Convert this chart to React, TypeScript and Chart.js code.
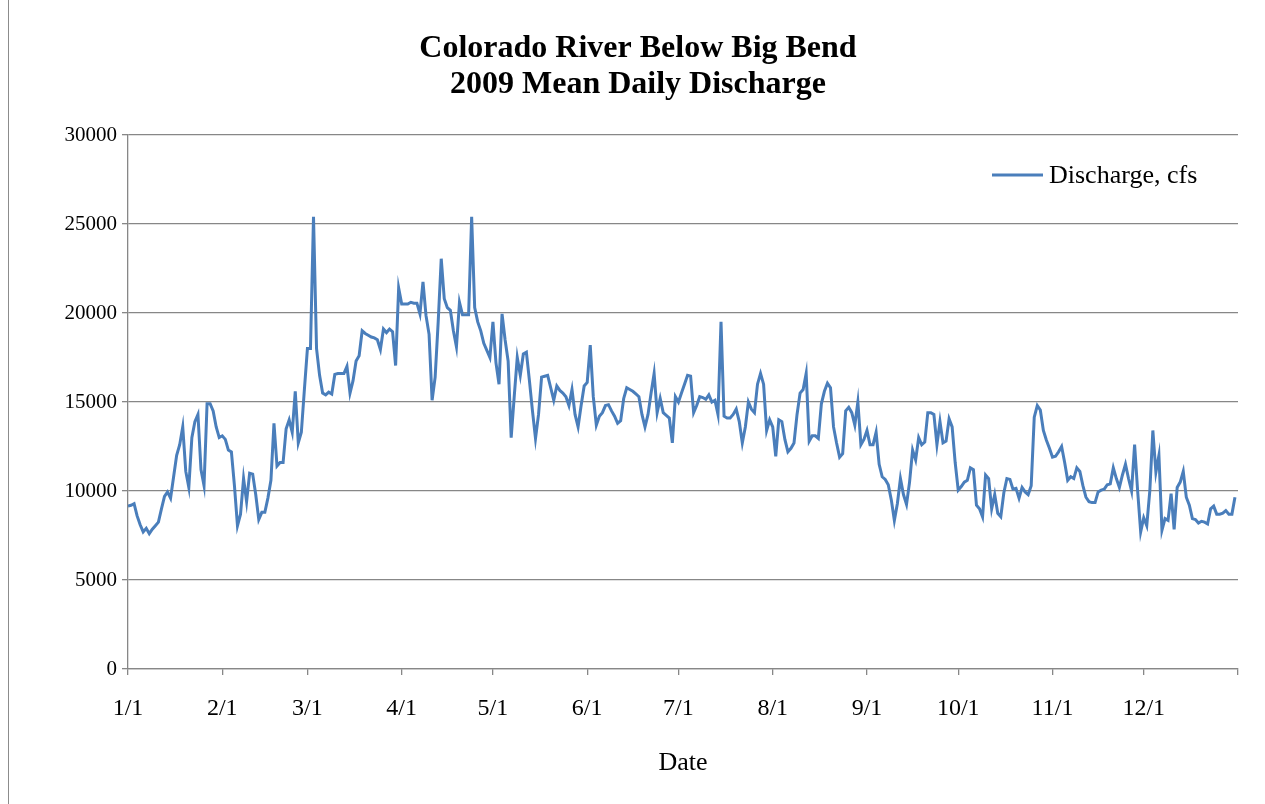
import { useEffect, useRef } from "react";
import { Chart, registerables } from "chart.js";

Chart.register(...registerables);

// Chart text
const chartTitle = ["Colorado River Below Big Bend", "2009 Mean Daily Discharge"];
const seriesLabel = "Discharge, cfs";
const xAxisTitle = "Date";

// Month boundaries (day of year, 0 = Jan 1) and their tick labels
const monthStartDays = [0, 31, 59, 90, 120, 151, 181, 212, 243, 273, 304, 334, 365];
const monthTickLabels = ["1/1", "2/1", "3/1", "4/1", "5/1", "6/1", "7/1", "8/1", "9/1", "10/1", "11/1", "12/1", ""];
const yTickValues = [0, 5000, 10000, 15000, 20000, 25000, 30000];

// Mean daily discharge (cfs), one array per month
const jan = [9160, 9200, 9290, 8600, 8100, 7700, 7900, 7600, 7850, 8050, 8250, 9000, 9700, 9950, 9600, 10800, 12000, 12600, 13600, 11100, 10200, 13000, 13900, 14300, 11200, 10300, 14900, 14900, 14500, 13600, 13000];
const feb = [13100, 12900, 12300, 12200, 10300, 8050, 8700, 10700, 9400, 11000, 10950, 9800, 8400, 8800, 8800, 9600, 10600, 13800, 11400, 11600, 11600, 13500, 14000, 13300, 15600, 12700, 13300, 15700];
const mar = [18000, 18000, 25400, 18000, 16500, 15500, 15400, 15550, 15450, 16550, 16600, 16600, 16600, 17000, 15500, 16200, 17300, 17600, 19000, 18850, 18750, 18650, 18600, 18500, 17950, 19100, 18900, 19100, 18950, 17050, 21400];
const apr = [20500, 20500, 20500, 20600, 20550, 20550, 19950, 21750, 19850, 18800, 15100, 16400, 19500, 23050, 20800, 20300, 20150, 19000, 18100, 20600, 19900, 19900, 19900, 25400, 20300, 19500, 19000, 18300, 17900, 17500];
const may = [19500, 17200, 16000, 19950, 18500, 17300, 13000, 15300, 17500, 16500, 17700, 17800, 16200, 14500, 12950, 14300, 16400, 16450, 16500, 15800, 15100, 15900, 15650, 15500, 15300, 14800, 15700, 14300, 13600, 14800, 15900];
const jun = [16100, 18200, 15300, 13700, 14200, 14400, 14800, 14850, 14500, 14200, 13800, 13950, 15200, 15800, 15700, 15600, 15450, 15300, 14300, 13600, 14300, 15500, 16600, 14400, 15200, 14400, 14250, 14100, 12700, 15300];
const jul = [15000, 15500, 16000, 16500, 16450, 14400, 14800, 15300, 15250, 15150, 15400, 15000, 15100, 14300, 19500, 14200, 14100, 14100, 14300, 14600, 13900, 12700, 13600, 15000, 14600, 14400, 16000, 16600, 16000, 13400, 14000];
const aug = [13600, 11950, 14000, 13900, 12900, 12200, 12400, 12700, 14300, 15500, 15700, 16600, 12800, 13100, 13100, 12950, 14900, 15600, 16050, 15800, 13600, 12700, 11900, 12100, 14500, 14700, 14400, 13700, 15000, 12600, 12900];
const sep = [13400, 12600, 12600, 13300, 11500, 10800, 10650, 10350, 9500, 8350, 9300, 10700, 9800, 9250, 10500, 12300, 11750, 13000, 12600, 12750, 14400, 14400, 14300, 12600, 13900, 12700, 12800, 14050, 13600, 11600];
const oct = [10050, 10250, 10500, 10600, 11300, 11200, 9200, 9000, 8550, 10900, 10700, 9000, 9800, 8750, 8550, 9900, 10700, 10650, 10100, 10150, 9600, 10200, 9950, 9800, 10300, 14150, 14800, 14550, 13400, 12850, 12400];
const nov = [11900, 11950, 12200, 12500, 11600, 10600, 10800, 10700, 11300, 11100, 10300, 9650, 9400, 9350, 9350, 9950, 10050, 10100, 10350, 10400, 11300, 10700, 10200, 10900, 11500, 10700, 10000, 12600, 10000, 7700];
const dec = [8500, 8050, 10000, 13400, 11050, 12000, 7800, 8450, 8350, 9850, 7850, 10200, 10500, 11100, 9650, 9200, 8450, 8400, 8200, 8300, 8250, 8150, 9000, 9150, 8700, 8700, 8750, 8900, 8700, 8700, 9650];

const dailyDischarge = [...jan, ...feb, ...mar, ...apr, ...may, ...jun, ...jul, ...aug, ...sep, ...oct, ...nov, ...dec];

const LINE_COLOR = "#4a7ebb";
const GRID_COLOR = "#878787";
const SERIF = "'Liberation Serif', 'Times New Roman', serif";

// Legend drawn inside the plot area, upper right
const insideLegend = {
  id: "insideLegend",
  afterDraw(chart: any) {
    const ctx = chart.ctx;
    const y = 175;
    ctx.save();
    ctx.strokeStyle = LINE_COLOR;
    ctx.lineWidth = 3;
    ctx.beginPath();
    ctx.moveTo(992, y);
    ctx.lineTo(1043, y);
    ctx.stroke();
    ctx.fillStyle = "#000";
    ctx.font = `26px ${SERIF}`;
    ctx.textBaseline = "middle";
    ctx.textAlign = "left";
    ctx.fillText(chart.data.datasets[0].label, 1049, y + 1);
    ctx.restore();
  },
};

// White background and the frame's left edge
const chartFrame = {
  id: "chartFrame",
  beforeDraw(chart: any) {
    const ctx = chart.ctx;
    ctx.save();
    ctx.fillStyle = "#fff";
    ctx.fillRect(0, 0, chart.width, chart.height);
    ctx.strokeStyle = "#8c8c8c";
    ctx.lineWidth = 1;
    ctx.beginPath();
    ctx.moveTo(8.5, 0);
    ctx.lineTo(8.5, chart.height);
    ctx.stroke();
    ctx.restore();
  },
};

export default function App() {
  const canvasRef = useRef<HTMLCanvasElement | null>(null);

  useEffect(() => {
    if (!canvasRef.current) return;
    const points = dailyDischarge.map((v, i) => ({ x: i, y: v }));
    const chart = new Chart(canvasRef.current, {
      type: "line",
      data: {
        datasets: [
          {
            label: seriesLabel,
            data: points,
            borderColor: LINE_COLOR,
            borderWidth: 3,
            pointRadius: 0,
            tension: 0,
            fill: false,
          },
        ],
      },
      options: {
        responsive: false,
        animation: false,
        layout: { padding: { left: 38, right: 27, top: 0, bottom: 0 } },
        plugins: {
          legend: { display: false },
          tooltip: { enabled: false },
          title: {
            display: true,
            text: chartTitle,
            color: "#000",
            font: { family: SERIF, size: 32, weight: "bold", lineHeight: "36px" },
            padding: { top: 31, bottom: 32 },
          },
        },
        scales: {
          x: {
            type: "linear",
            min: 0,
            max: 365,
            afterBuildTicks: (scale: any) => {
              scale.ticks = monthStartDays.map((v) => ({ value: v }));
            },
            afterFit: (scale: any) => {
              scale.height = 135;
            },
            ticks: {
              autoSkip: false,
              maxRotation: 0,
              color: "#000",
              font: { family: SERIF, size: 24 },
              padding: 19,
              callback: (_v: any, i: number) => monthTickLabels[i],
            },
            grid: {
              drawOnChartArea: false,
              drawTicks: true,
              tickLength: 6,
              color: GRID_COLOR,
              lineWidth: 1.3,
            },
            border: { display: true, color: GRID_COLOR, width: 1.3 },
            title: {
              display: true,
              text: xAxisTitle,
              color: "#000",
              font: { family: SERIF, size: 26 },
              padding: { top: 0, bottom: 25 },
            },
          },
          y: {
            min: 0,
            max: 30000,
            afterBuildTicks: (scale: any) => {
              scale.ticks = yTickValues.map((v) => ({ value: v }));
            },
            afterFit: (scale: any) => {
              scale.width = 90;
            },
            ticks: {
              color: "#000",
              font: { family: SERIF, size: 21 },
              padding: 5,
              callback: (v: any) => String(v),
            },
            grid: {
              color: GRID_COLOR,
              lineWidth: 1.3,
              drawTicks: true,
              tickLength: 6,
            },
            border: { display: true, color: GRID_COLOR, width: 1.3 },
          },
        },
      },
      plugins: [chartFrame, insideLegend],
    });
    return () => chart.destroy();
  }, []);

  return (
    <div style={{ position: "absolute", left: 0, top: 0, width: 1265, height: 804 }}>
      <canvas ref={canvasRef} width={1265} height={804} />
    </div>
  );
}
